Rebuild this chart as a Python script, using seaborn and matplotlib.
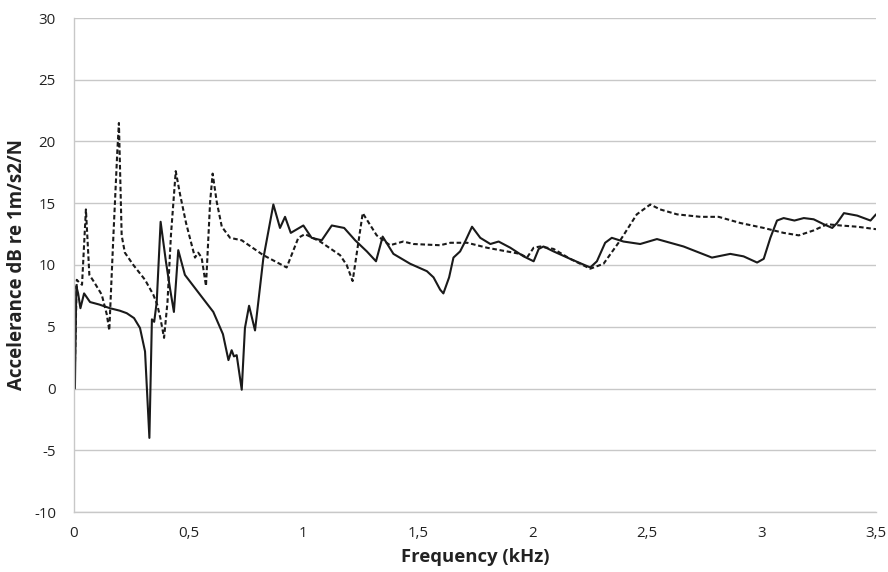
import matplotlib
matplotlib.use("Agg")
import matplotlib.pyplot as plt
import seaborn as sns
import pandas as pd

solid_f = [0.0, 0.004, 0.01, 0.018, 0.028, 0.044, 0.07, 0.11, 0.157, 0.2, 0.23, 0.262, 0.288, 0.31, 0.329, 0.34, 0.35, 0.361,
           0.378, 0.401, 0.419, 0.436, 0.455, 0.484, 0.55, 0.608, 0.65, 0.674, 0.688, 0.698, 0.71, 0.732,
           0.746, 0.764, 0.79, 0.826, 0.87, 0.899, 0.921, 0.946, 1.001, 1.037, 1.081, 1.125, 1.179, 1.227,
           1.278, 1.318, 1.347, 1.394, 1.467, 1.54, 1.569, 1.598, 1.612, 1.637, 1.656, 1.685, 1.707, 1.737,
           1.773, 1.817, 1.853, 1.904, 1.962, 2.006, 2.028, 2.049, 2.093, 2.165, 2.253, 2.282, 2.318, 2.347,
           2.398, 2.471, 2.544, 2.602, 2.66, 2.784, 2.864, 2.922, 2.981, 3.01, 3.039, 3.068, 3.097, 3.144,
           3.185, 3.228, 3.272, 3.309, 3.33, 3.36, 3.418, 3.476, 3.5]
solid_v = [0.0, 0.0, 8.3, 7.7, 6.5, 7.7, 7.0, 6.8, 6.5, 6.3, 6.1, 5.7, 4.9, 3.0, -4.0, 5.6, 5.4, 7.0,
           13.5, 10.3, 8.1, 6.2, 11.2, 9.2, 7.6, 6.2, 4.4, 2.3, 3.1, 2.6, 2.7, -0.1,
           4.9, 6.7, 4.7, 10.5, 14.9, 13.0, 13.9, 12.6, 13.2, 12.2, 12.0, 13.2, 13.0, 12.0,
           11.1, 10.3, 12.3, 10.9, 10.1, 9.5, 9.0, 8.0, 7.7, 9.0, 10.6, 11.1, 11.9, 13.1,
           12.2, 11.7, 11.9, 11.4, 10.7, 10.3, 11.3, 11.5, 11.1, 10.5, 9.8, 10.3, 11.8, 12.2,
           11.9, 11.7, 12.1, 11.8, 11.5, 10.6, 10.9, 10.7, 10.2, 10.5, 12.2, 13.6, 13.8, 13.6,
           13.8, 13.7, 13.3, 13.0, 13.4, 14.2, 14.0, 13.6, 14.1]

dashed_f = [0.003, 0.012, 0.022, 0.035, 0.052, 0.067, 0.085, 0.121, 0.143, 0.154, 0.172, 0.189, 0.196,
            0.208, 0.222, 0.259, 0.31, 0.346, 0.363, 0.377, 0.393, 0.408, 0.423, 0.444, 0.463, 0.489,
            0.514, 0.528, 0.542, 0.557, 0.576, 0.594, 0.605, 0.623, 0.645, 0.681, 0.732, 0.826, 0.928,
            0.979, 1.008, 1.074, 1.161, 1.19, 1.216, 1.26, 1.321, 1.379, 1.437, 1.481, 1.598, 1.643,
            1.716, 1.802, 1.889, 1.947, 1.977, 2.006, 2.035, 2.093, 2.165, 2.253, 2.311, 2.384, 2.456,
            2.515, 2.558, 2.632, 2.734, 2.813, 2.908, 3.01, 3.097, 3.163, 3.228, 3.287, 3.345, 3.418, 3.5]
dashed_v = [1.0, 8.8, 8.6, 8.4, 14.5, 9.2, 8.7, 7.6, 6.0, 4.7, 12.4, 19.2, 21.5,
            12.4, 11.0, 10.0, 8.8, 7.6, 6.8, 5.7, 4.1, 7.0, 12.4, 17.6, 15.7, 13.4,
            11.6, 10.6, 11.0, 10.6, 8.3, 15.1, 17.4, 15.1, 13.1, 12.2, 12.0, 10.8, 9.8,
            12.2, 12.5, 11.9, 10.8, 10.0, 8.7, 14.2, 12.4, 11.6, 11.9, 11.7, 11.6, 11.8,
            11.8, 11.4, 11.1, 10.9, 10.6, 11.4, 11.5, 11.3, 10.5, 9.7, 10.1, 12.0, 14.1,
            14.9, 14.5, 14.1, 13.9, 13.9, 13.4, 13.0, 12.6, 12.4, 12.8, 13.3, 13.2, 13.1, 12.9]

x_ticks = [0, 0.5, 1, 1.5, 2, 2.5, 3, 3.5]
x_labels = ["0", "0,5", "1", "1,5", "2", "2,5", "3", "3,5"]
y_ticks = [-10, -5, 0, 5, 10, 15, 20, 25, 30]
y_labels = ["-10", "-5", "0", "5", "10", "15", "20", "25", "30"]

sns.set_style("white")
plt.rcParams["font.family"] = ["Open Sans", "DejaVu Sans"]
plt.rcParams["axes.unicode_minus"] = False

fig = plt.figure(figsize=(8.88, 5.72), dpi=100)
ax = fig.add_axes([74/888, 1 - 512/572, (876 - 74)/888, (512 - 18)/572])

df_s = pd.DataFrame({"f": solid_f, "v": solid_v})
df_d = pd.DataFrame({"f": dashed_f, "v": dashed_v})
sns.lineplot(data=df_s, x="f", y="v", ax=ax, color="#1a1a1a", lw=1.5, sort=False)
sns.lineplot(data=df_d, x="f", y="v", ax=ax, color="#1a1a1a", lw=1.5, sort=False,
             linestyle=(0, (2.2, 1.3)))

ax.set_xlim(0, 3.5)
ax.set_ylim(-10, 30)
ax.set_xticks(x_ticks)
ax.set_xticklabels(x_labels)
ax.set_yticks(y_ticks)
ax.set_yticklabels(y_labels)
ax.yaxis.grid(True, color="#c8c8c8", lw=1.0)
ax.xaxis.grid(False)
ax.set_axisbelow(True)
for s in ["top", "right"]:
    ax.spines[s].set_visible(False)
for s in ["left", "bottom"]:
    ax.spines[s].set_color("#c8c8c8")
    ax.spines[s].set_linewidth(1.0)
ax.tick_params(axis="both", length=0, labelsize=10.8, colors="#222222")
ax.tick_params(axis="x", pad=10)
ax.tick_params(axis="y", pad=13)
ax.set_xlabel("Frequency (kHz)", fontsize=13.3, fontweight="bold", color="#222222", labelpad=5)
ax.set_ylabel("Accelerance dB re 1m/s2/N", fontsize=13.5, fontweight="bold", color="#222222", labelpad=5)

fig.savefig("out.png", dpi=100)
